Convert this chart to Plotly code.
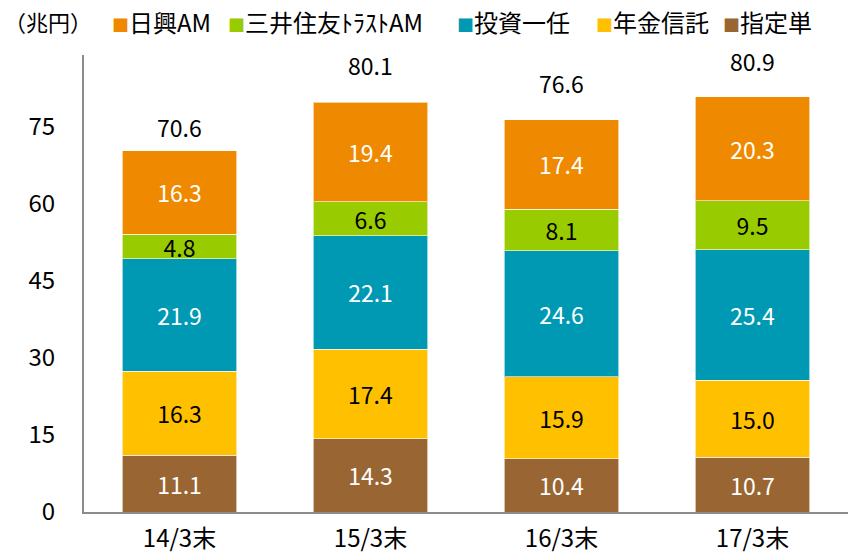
import plotly.graph_objects as go

categories = ["14/3末", "15/3末", "16/3末", "17/3末"]
series_names = ["指定単", "年金信託", "投資一任", "三井住友ﾄﾗｽﾄAM", "日興AM"]
shitei = [11.1, 14.3, 10.4, 10.7]
nenkin = [16.3, 17.4, 15.9, 15.0]
toushi = [21.9, 22.1, 24.6, 25.4]
smtam = [4.8, 6.6, 8.1, 9.5]
nikko = [16.3, 19.4, 17.4, 20.3]
totals = [70.6, 80.1, 76.6, 80.9]
y_ticks = [0, 15, 30, 45, 60, 75]
unit_label = "（兆円）"
legend_order = ["日興AM", "三井住友ﾄﾗｽﾄAM", "投資一任", "年金信託", "指定単"]

series_values = [shitei, nenkin, toushi, smtam, nikko]
colors = ["#996633", "#FFC000", "#0099B4", "#99CC00", "#EE8900"]
label_colors = ["white", "black", "white", "black", "white"]
color_map = dict(zip(series_names, colors))

FONT = "Noto Sans CJK JP"
PLOT_L, PLOT_W = 84, 764

fig = go.Figure()
for name, vals, col, lc in zip(series_names, series_values, colors, label_colors):
    fig.add_trace(go.Bar(
        x=categories, y=vals, name=name,
        marker=dict(color=col, line=dict(color="rgba(255,255,255,0.6)", width=1)),
        width=0.6,
        text=[f"{v:.1f}" for v in vals],
        textposition="inside", insidetextanchor="middle",
        constraintext="none", textangle=0,
        textfont=dict(family=FONT, size=23, color=lc),
        showlegend=False,
    ))

for i, (c, t) in enumerate(zip(categories, totals)):
    fig.add_annotation(x=c, y=t, text=f"{t:.1f}", showarrow=False,
                       yanchor="middle", yshift=22 if i == 0 else 36,
                       bgcolor="white",
                       font=dict(family=FONT, size=23, color="black"))

legend_px = [110, 226, 455, 594, 721]
for n, px in zip(legend_order, legend_px):
    fig.add_annotation(xref="paper", yref="paper", x=(px - PLOT_L) / PLOT_W, y=1, yshift=34,
                       xanchor="left", yanchor="middle", showarrow=False,
                       text=f"<span style='color:{color_map[n]};font-size:17px'>■</span>{n}",
                       font=dict(family=FONT, size=24, color="black"))
fig.add_annotation(xref="paper", yref="paper", x=(2 - PLOT_L) / PLOT_W, y=1, yshift=34,
                   xanchor="left", yanchor="middle", showarrow=False,
                   text=unit_label, font=dict(family=FONT, size=22, color="black"))

fig.update_layout(
    barmode="stack",
    width=848, height=553,
    margin=dict(l=PLOT_L, r=0, t=55, b=41, autoexpand=False),
    plot_bgcolor="white", paper_bgcolor="white",
    font=dict(family=FONT, size=23, color="black"),
    xaxis=dict(showline=True, linecolor="#8C8C8C", linewidth=2, showgrid=False,
               ticks="", ticklabelstandoff=4, tickfont=dict(size=24), automargin=False),
    yaxis=dict(range=[0, 89], showline=True, linecolor="#8C8C8C", linewidth=2,
               showgrid=False, zeroline=False, tickvals=y_ticks, ticks="",
               ticklabelstandoff=22, tickfont=dict(size=24), automargin=False),
)

fig.write_html("out.html", config={"displayModeBar": False},
               post_script="document.body.style.margin='0';document.body.style.overflow='hidden';")
